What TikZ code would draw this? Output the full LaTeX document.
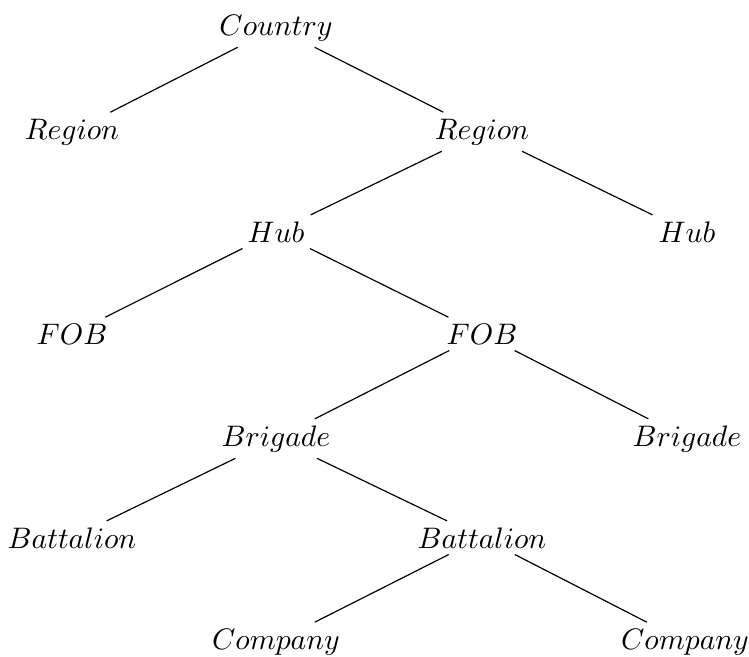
\documentclass[tikz,border=0pt]{standalone}
\usepackage{amsmath,amssymb}

\begin{document}
\begin{tikzpicture}[x=0.337pt,y=0.337pt,yscale=-1,xscale=1]
	\tikzset{lvl/.style={anchor=base,inner xsep=2pt,inner ysep=2pt}}
	%set diagram area 749 x 656
	\useasboundingbox (0,0) rectangle (749,656);
	
	% Text Node
	\node [lvl] (country) at (276,35) {$Country$};
	% Text Node
	\node [lvl] (regionA) at (72,139) {$Region$};
	\node [lvl] (regionB) at (482,139) {$Region$};
	% Text Node
	\node [lvl] (hubA) at (276,242) {$Hub$};
	\node [lvl] (hubB) at (687,242) {$Hub$};
	% Text Node
	\node [lvl] (fobA) at (72,344) {$FOB$};
	\node [lvl] (fobB) at (482,344) {$FOB$};
	% Text Node
	\node [lvl] (brigadeA) at (276,446) {$Brigade$};
	\node [lvl] (brigadeB) at (687,446) {$Brigade$};
	% Text Node
	\node [lvl] (battalionA) at (72,548) {$Battalion$};
	\node [lvl] (battalionB) at (482,548) {$Battalion$};
	% Text Node
	\node [lvl] (companyA) at (276,649) {$Company$};
	\node [lvl] (companyB) at (685,649) {$Company$};
	
	%Straight Lines
	\draw (country) -- (regionA);
	\draw (country) -- (regionB);
	\draw (regionB) -- (hubA);
	\draw (regionB) -- (hubB);
	\draw (hubA) -- (fobA);
	\draw (hubA) -- (fobB);
	\draw (fobB) -- (brigadeA);
	\draw (fobB) -- (brigadeB);
	\draw (brigadeA) -- (battalionA);
	\draw (brigadeA) -- (battalionB);
	\draw (battalionB) -- (companyA);
	\draw (battalionB) -- (companyB);
	
\end{tikzpicture}
\end{document}
